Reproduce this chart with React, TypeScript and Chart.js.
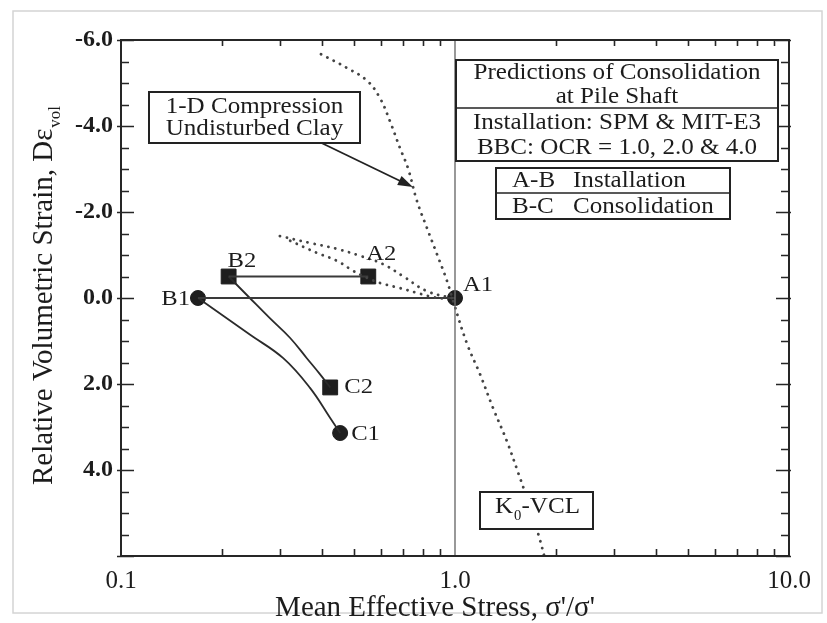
import React, { useEffect, useRef } from 'react';
import { Chart, registerables } from 'chart.js';

Chart.register(...registerables);

// ---------- data ----------
const xTickValues = [0.1, 1, 10];
const xTickLabels = ['0.1', '1.0', '10.0'];
const xMinorTicks = [0.2, 0.3, 0.4, 0.5, 0.6, 0.7, 0.8, 0.9, 2, 3, 4, 5, 6, 7, 8, 9];
const yMin = -6;
const yMax = 6;
const yTickStep = 2;
const yMinorStep = 0.5;

// A-B installation paths
const installation1X = [1.0, 0.17];
const installation1Y = [0.0, 0.0];
const installation2X = [0.55, 0.21];
const installation2Y = [-0.5, -0.5];

// B-C consolidation paths
const consolidation1X = [0.17, 0.243, 0.306, 0.368, 0.423, 0.453];
const consolidation1Y = [0.0, 0.85, 1.4, 2.09, 2.79, 3.14];
const consolidation2X = [0.21, 0.243, 0.279, 0.321, 0.36, 0.394, 0.423];
const consolidation2Y = [-0.5, 0.0, 0.47, 0.93, 1.4, 1.77, 2.08];

// marked points
const circleX = [1.0, 0.17, 0.453];
const circleY = [0.0, 0.0, 3.14];
const circleLabels = ['A1', 'B1', 'C1'];
const squareX = [0.55, 0.21, 0.423];
const squareY = [-0.5, -0.5, 2.08];
const squareLabels = ['A2', 'B2', 'C2'];

// K0-VCL / 1-D compression of undisturbed clay (dotted)
const k0vclX = [0.397, 0.475, 0.546, 0.596, 0.638, 0.684, 0.723, 0.769, 0.824, 0.883, 0.946, 0.987, 1.087, 1.188, 1.3, 1.43, 1.55, 1.68, 1.8, 1.85];
const k0vclY = [-5.67, -5.35, -5.05, -4.65, -4.12, -3.49, -3.02, -2.26, -1.63, -1.02, -0.4, 0.07, 1.07, 1.77, 2.56, 3.33, 4.09, 4.88, 5.65, 6.0];

// dotted swelling lines towards A1
const swellUpperX = [0.299, 0.368, 0.444, 0.52, 0.608, 0.698, 0.824, 1.0];
const swellUpperY = [-1.44, -1.28, -1.14, -0.98, -0.79, -0.51, -0.16, 0.02];
const swellLowerX = [0.321, 0.386, 0.444, 0.496, 0.545, 0.596, 0.684, 0.769, 0.86, 0.95];
const swellLowerY = [-1.33, -1.05, -0.86, -0.63, -0.47, -0.35, -0.23, -0.12, -0.02, 0.02];

// vertical reference at sigma'/sigma' = 1
const refLineX = [1, 1];
const refLineY = [-6, 6];

// arrow from "1-D Compression" box to the curve
const arrowX = [0.4, 0.748];
const arrowY = [-3.6, -2.58];

// text
const xTitle = "Mean Effective Stress, σ'/σ'";
const yTitle = 'Relative Volumetric Strain, Dε';
const yTitleSub = 'vol';
const box1Lines = ['1-D Compression', 'Undisturbed Clay'];
const box2Top = ['Predictions of Consolidation', 'at Pile Shaft'];
const box2Bottom = ['Installation: SPM & MIT-E3', 'BBC: OCR = 1.0, 2.0 & 4.0'];
const legendKeys = ['A-B', 'B-C'];
const legendTexts = ['Installation', 'Consolidation'];

// ---------- helpers ----------
const SERIF = '"Liberation Serif", "Times New Roman", Times, serif';
const INK = '#1c1c1c';

const zip = (xs: number[], ys: number[]) => xs.map((x, i) => ({ x, y: ys[i] }));

function drawText(
  ctx: CanvasRenderingContext2D,
  s: string,
  x: number,
  y: number,
  size: number,
  align: 'left' | 'center' | 'right' = 'left',
  stretch = 1,
  bold = false
) {
  ctx.save();
  ctx.font = `${bold ? 'bold ' : ''}${size}px ${SERIF}`;
  ctx.textAlign = 'left';
  ctx.textBaseline = 'alphabetic';
  ctx.fillStyle = INK;
  const w = ctx.measureText(s).width * stretch;
  const x0 = align === 'center' ? x - w / 2 : align === 'right' ? x - w : x;
  ctx.translate(x0, y);
  ctx.scale(stretch, 1);
  ctx.fillText(s, 0, 0);
  ctx.restore();
  return w;
}

function box(ctx: CanvasRenderingContext2D, x: number, y: number, w: number, h: number, dividers: number[] = []) {
  ctx.save();
  ctx.fillStyle = '#ffffff';
  ctx.fillRect(x, y, w, h);
  ctx.strokeStyle = '#222';
  ctx.lineWidth = 2;
  ctx.strokeRect(x, y, w, h);
  ctx.lineWidth = 1.5;
  dividers.forEach((d) => {
    ctx.beginPath();
    ctx.moveTo(x, y + d);
    ctx.lineTo(x + w, y + d);
    ctx.stroke();
  });
  ctx.restore();
}

const labelOffsets: Record<string, [number, number, 'left' | 'right']> = {
  A1: [8, -7, 'left'],
  B1: [-8, 7, 'right'],
  C1: [11, 7, 'left'],
  A2: [-2, -17, 'left'],
  B2: [-1, -10, 'left'],
  C2: [14, 6, 'left'],
};

const decorPlugin = {
  id: 'decor',
  beforeDraw(chart: any) {
    const { ctx, width, height } = chart;
    ctx.save();
    ctx.fillStyle = '#ffffff';
    ctx.fillRect(0, 0, width, height);
    ctx.strokeStyle = '#d4d4d4';
    ctx.lineWidth = 1.5;
    ctx.strokeRect(13, 11, 809, 602);
    ctx.restore();
  },
  afterDatasetsDraw(chart: any) {
    const { ctx, chartArea: ca, scales } = chart;
    const xs = scales.x;
    const ys = scales.y;
    const L = ca.left, R = ca.right, T = ca.top, B = ca.bottom;

    // plot frame
    ctx.save();
    ctx.strokeStyle = '#262626';
    ctx.lineWidth = 2;
    ctx.strokeRect(L, T, R - L, B - T);

    // y ticks (left & right, inward)
    ctx.lineWidth = 1.6;
    for (let v = yMin; v <= yMax + 1e-9; v += yMinorStep) {
      const py = Math.round(ys.getPixelForValue(v)) + 0.5;
      const major = Math.abs(v / yTickStep - Math.round(v / yTickStep)) < 1e-6;
      const len = major ? 13 : 8;
      ctx.beginPath();
      ctx.moveTo(L - (major ? 4 : 0), py);
      ctx.lineTo(L + len, py);
      ctx.moveTo(R + (major ? 2 : 0), py);
      ctx.lineTo(R - len, py);
      ctx.stroke();
    }
    // x minor ticks (top & bottom, inward)
    xMinorTicks.forEach((v) => {
      const px = Math.round(xs.getPixelForValue(v)) + 0.5;
      ctx.beginPath();
      ctx.moveTo(px, B);
      ctx.lineTo(px, B - 7);
      ctx.moveTo(px, T);
      ctx.lineTo(px, T + 6);
      ctx.stroke();
    });
    ctx.restore();

    // arrow
    const ax0 = xs.getPixelForValue(arrowX[0]);
    const ay0 = ys.getPixelForValue(arrowY[0]);
    const ax1 = xs.getPixelForValue(arrowX[1]);
    const ay1 = ys.getPixelForValue(arrowY[1]);
    const ang = Math.atan2(ay1 - ay0, ax1 - ax0);
    ctx.save();
    ctx.strokeStyle = '#222';
    ctx.fillStyle = '#222';
    ctx.lineWidth = 1.8;
    ctx.beginPath();
    ctx.moveTo(ax0, ay0);
    ctx.lineTo(ax1 - 10 * Math.cos(ang), ay1 - 10 * Math.sin(ang));
    ctx.stroke();
    ctx.beginPath();
    ctx.moveTo(ax1, ay1);
    ctx.lineTo(ax1 - 15 * Math.cos(ang) + 5 * Math.sin(ang), ay1 - 15 * Math.sin(ang) - 5 * Math.cos(ang));
    ctx.lineTo(ax1 - 15 * Math.cos(ang) - 5 * Math.sin(ang), ay1 - 15 * Math.sin(ang) + 5 * Math.cos(ang));
    ctx.closePath();
    ctx.fill();
    ctx.restore();

    // point labels
    const labelAll = (xsArr: number[], ysArr: number[], labels: string[]) => {
      labels.forEach((lab, i) => {
        const px = xs.getPixelForValue(xsArr[i]);
        const py = ys.getPixelForValue(ysArr[i]);
        const [dx, dy, al] = labelOffsets[lab];
        drawText(ctx, lab, px + dx, py + dy, 22, al, 1.12);
      });
    };
    labelAll(circleX, circleY, circleLabels);
    labelAll(squareX, squareY, squareLabels);

    // Box 1: 1-D compression
    const b1x = L + 28, b1y = T + 52;
    box(ctx, b1x, b1y, 211, 51);
    drawText(ctx, box1Lines[0], b1x + 105.5, b1y + 21, 23, 'center', 1.09);
    drawText(ctx, box1Lines[1], b1x + 105.5, b1y + 43, 23, 'center', 1.09);

    // Box 2: title
    const b2x = L + 335, b2y = T + 20;
    box(ctx, b2x, b2y, 322, 101, [48]);
    drawText(ctx, box2Top[0], b2x + 161, b2y + 19, 23, 'center', 1.09);
    drawText(ctx, box2Top[1], b2x + 161, b2y + 43, 23, 'center', 1.09);
    drawText(ctx, box2Bottom[0], b2x + 161, b2y + 69, 23, 'center', 1.09);
    drawText(ctx, box2Bottom[1], b2x + 161, b2y + 94, 23, 'center', 1.09);

    // Box 3: legend
    const b3x = L + 375, b3y = T + 128;
    box(ctx, b3x, b3y, 234, 51, [25]);
    drawText(ctx, legendKeys[0], b3x + 16, b3y + 19, 23, 'left', 1.09);
    drawText(ctx, legendTexts[0], b3x + 77, b3y + 19, 23, 'left', 1.09);
    drawText(ctx, legendKeys[1], b3x + 16, b3y + 45, 23, 'left', 1.09);
    drawText(ctx, legendTexts[1], b3x + 77, b3y + 45, 23, 'left', 1.09);

    // K0-VCL box
    const b4x = L + 359, b4y = T + 452;
    box(ctx, b4x, b4y, 113, 37);
    let cx = b4x + 15;
    cx += drawText(ctx, 'K', cx, b4y + 21, 23, 'left', 1.09);
    cx += drawText(ctx, '0', cx + 1, b4y + 28, 14, 'left', 1.05) + 1;
    drawText(ctx, '-VCL', cx, b4y + 21, 23, 'left', 1.09);

    // axis titles
    drawText(ctx, xTitle, 435, 616, 29, 'center', 1.0);
    ctx.save();
    ctx.translate(52, 485);
    ctx.rotate(-Math.PI / 2);
    const tw = drawText(ctx, yTitle, 0, 0, 29, 'left', 1.0);
    drawText(ctx, yTitleSub, tw + 1, 8, 17, 'left', 1.0);
    ctx.restore();
  },
};

export default function App() {
  const canvasRef = useRef<HTMLCanvasElement | null>(null);

  useEffect(() => {
    const canvas = canvasRef.current;
    if (!canvas) return;

    const dotted = {
      showLine: true,
      borderColor: '#444444',
      borderWidth: 2.8,
      borderDash: [0.1, 7],
      borderCapStyle: 'round' as const,
      pointRadius: 0,
      tension: 0.4,
    };
    const solid = {
      showLine: true,
      borderColor: '#2b2b2b',
      borderWidth: 1.8,
      pointRadius: 0,
    };

    const chart = new Chart(canvas, {
      type: 'scatter',
      data: {
        datasets: [
          { label: 'ref', data: zip(refLineX, refLineY), showLine: true, borderColor: '#6e6e6e', borderWidth: 1.4, pointRadius: 0 },
          { label: 'K0-VCL', data: zip(k0vclX, k0vclY), ...dotted },
          { label: 'swell upper', data: zip(swellUpperX, swellUpperY), ...dotted },
          { label: 'swell lower', data: zip(swellLowerX, swellLowerY), ...dotted },
          { label: 'A1-B1', data: zip(installation1X, installation1Y), ...solid, borderColor: '#3a3a3a', borderWidth: 2.2 },
          { label: 'A2-B2', data: zip(installation2X, installation2Y), ...solid, borderColor: '#3a3a3a', borderWidth: 2.2 },
          { label: 'B1-C1', data: zip(consolidation1X, consolidation1Y), ...solid, tension: 0.4 },
          { label: 'B2-C2', data: zip(consolidation2X, consolidation2Y), ...solid, tension: 0.4 },
          {
            label: 'circles',
            data: zip(circleX, circleY),
            showLine: false,
            pointStyle: 'circle',
            pointRadius: 7.5,
            pointBackgroundColor: '#1e1e1e',
            pointBorderColor: '#1e1e1e',
            pointBorderWidth: 1,
          },
          {
            label: 'squares',
            data: zip(squareX, squareY),
            showLine: false,
            pointStyle: 'rect',
            pointRadius: 10.5,
            pointBackgroundColor: '#1e1e1e',
            pointBorderColor: '#1e1e1e',
            pointBorderWidth: 1,
          },
        ],
      },
      options: {
        animation: false,
        responsive: false,
        events: [],
        layout: { padding: { left: 0, right: 38, top: 40, bottom: 0 } },
        plugins: { legend: { display: false }, tooltip: { enabled: false }, title: { display: false } },
        scales: {
          x: {
            type: 'logarithmic',
            position: 'bottom',
            min: 0.1,
            max: 10,
            afterBuildTicks: (scale: any) => {
              scale.ticks = xTickValues.map((v) => ({ value: v }));
            },
            afterFit: (scale: any) => {
              scale.height = 67;
            },
            grid: { display: false, drawTicks: false },
            border: { display: false },
            ticks: {
              autoSkip: false,
              maxRotation: 0,
              padding: 10,
              color: INK,
              font: { family: SERIF, size: 25 },
              callback: (v: any) => {
                const i = xTickValues.findIndex((t) => Math.abs(t - Number(v)) < 1e-9);
                return i >= 0 ? xTickLabels[i] : '';
              },
            },
          },
          y: {
            type: 'linear',
            reverse: true,
            min: yMin,
            max: yMax,
            afterFit: (scale: any) => {
              scale.width = 121;
            },
            grid: { display: false, drawTicks: false },
            border: { display: false },
            ticks: {
              stepSize: yTickStep,
              padding: 8,
              color: INK,
              font: { family: SERIF, size: 24, weight: 'bold' },
              callback: (v: any) => (Number(v) === yMax ? '' : Number(v).toFixed(1)),
            },
          },
        },
      },
      plugins: [decorPlugin],
    });

    return () => chart.destroy();
  }, []);

  return (
    <div style={{ position: 'absolute', left: 0, top: 0, width: 827, height: 623, background: '#fff' }}>
      <canvas ref={canvasRef} width={827} height={623} style={{ display: 'block', width: 827, height: 623 }} />
    </div>
  );
}
